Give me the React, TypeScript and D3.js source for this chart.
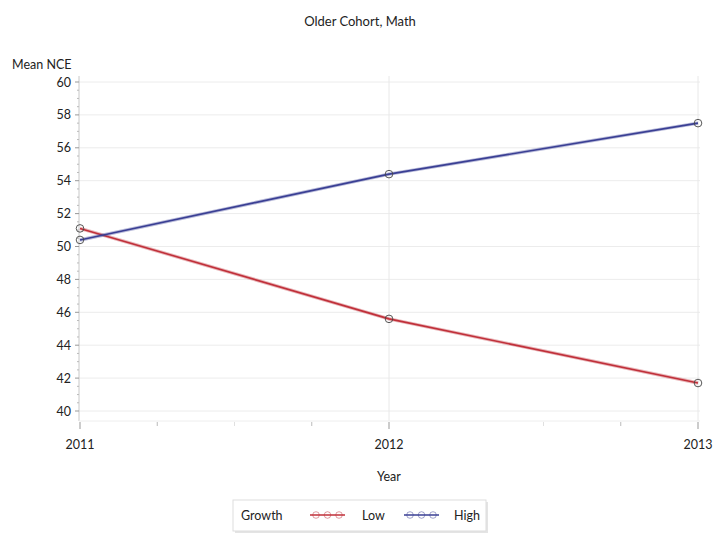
import React from "react";
import * as d3 from "d3";

const years = [2011, 2012, 2013];
const lowValues = [51.1, 45.6, 41.7];
const highValues = [50.4, 54.4, 57.5];
const yTicks = [40, 42, 44, 46, 48, 50, 52, 54, 56, 58, 60];
const seriesNames = ["Low", "High"];
const seriesColors = ["#c0303a", "#3a3f94"];

const FONT = "Lato, 'Open Sans', sans-serif";

export default function App() {
  const W = 720, H = 540;
  const left = 80, right = 698;
  const x = d3.scaleLinear().domain([2011, 2013]).range([left, right]);
  const y = d3.scaleLinear().domain([40, 60]).range([411, 82]);
  const plotTop = 76, plotBottom = 421;
  const line = d3.line<[number, number]>().x(d => x(d[0])).y(d => y(d[1]));
  const series = [lowValues, highValues];
  const minorY = d3.range(40.5, 60, 0.5).filter(v => v % 2 !== 0);
  const minorX = [2011.25, 2011.5, 2011.75, 2012.5, 2012.75];

  return (
    <svg width={W} height={H} style={{ position: "absolute", left: 0, top: 0, background: "#fff" }} fontFamily={FONT}>
      <text x={360} y={26} textAnchor="middle" fontSize={13} fill="#222">Older Cohort, Math</text>
      <text x={12} y={69} fontSize={12.5} fill="#222">Mean NCE</text>

      {/* grid */}
      {yTicks.map(t => (
        <line key={"g" + t} x1={left - 1} x2={right + 2} y1={y(t)} y2={y(t)} stroke="#ececec" />
      ))}
      {years.slice(1).map(t => (
        <line key={"gx" + t} x1={x(t)} x2={x(t)} y1={plotTop} y2={plotBottom} stroke="#e8e8e8" />
      ))}
      <line x1={left - 1} x2={left - 1} y1={plotTop} y2={plotBottom} stroke="#c8c8c8" />
      <line x1={left - 1} x2={right + 2} y1={plotBottom} y2={plotBottom} stroke="#eeeeee" />

      {/* y axis ticks */}
      {yTicks.map(t => (
        <g key={"yt" + t}>
          <line x1={left - 5} x2={left - 1} y1={y(t)} y2={y(t)} stroke="#999" />
          <text x={71} y={y(t) + 4.5} textAnchor="end" fontSize={12.5} fill="#222">{t}</text>
        </g>
      ))}
      {minorY.map(t => (
        <line key={"my" + t} x1={left - 3} x2={left - 1} y1={y(t)} y2={y(t)} stroke="#bbb" />
      ))}

      {/* x axis ticks */}
      {years.map(t => (
        <g key={"xt" + t}>
          <line x1={x(t)} x2={x(t)} y1={plotBottom + 1} y2={plotBottom + 8} stroke="#999" />
          <text x={x(t)} y={449} textAnchor="middle" fontSize={12.5} fill="#222">{t}</text>
        </g>
      ))}
      {minorX.map(t => (
        <line key={"mx" + t} x1={x(t)} x2={x(t)} y1={plotBottom + 1} y2={plotBottom + 5}
          stroke={t % 1 === 0.5 ? "#e0e0e0" : "#bbb"} />
      ))}
      <text x={389} y={481} textAnchor="middle" fontSize={12.5} fill="#222">Year</text>

      {/* series */}
      {series.map((vals, i) => {
        const pts = years.map((yr, j) => [yr, vals[j]] as [number, number]);
        return (
          <g key={"s" + i}>
            <path d={line(pts) || ""} fill="none" stroke={seriesColors[i]} strokeOpacity={0.35} strokeWidth={3.5} />
            <path d={line(pts) || ""} fill="none" stroke={seriesColors[i]} strokeWidth={1.6} />
            {pts.map((p, j) => (
              <circle key={j} cx={x(p[0])} cy={y(p[1])} r={3.8} fill="none" stroke="#444" strokeWidth={0.9} />
            ))}
          </g>
        );
      })}

      {/* legend */}
      <rect x={235} y={502} width={253} height={31} fill="#e4e4e4" />
      <rect x={233} y={500} width={253} height={31} fill="#fff" stroke="#ddd" />
      <text x={241} y={519.5} fontSize={12.5} fill="#222">Growth</text>
      {seriesNames.map((n, i) => {
        const x0 = i === 0 ? 310 : 404;
        return (
          <g key={"l" + n}>
            <line x1={x0} x2={x0 + 35} y1={515} y2={515} stroke={seriesColors[i]} strokeWidth={1.5} />
            {[0, 1, 2].map(k => (
              <circle key={k} cx={x0 + 6 + k * 11.5} cy={515} r={3.3} fill="none" stroke={seriesColors[i]} strokeOpacity={0.6} strokeWidth={0.8} />
            ))}
            <text x={i === 0 ? 362 : 454} y={519.5} fontSize={12.5} fill="#222">{n}</text>
          </g>
        );
      })}
    </svg>
  );
}
